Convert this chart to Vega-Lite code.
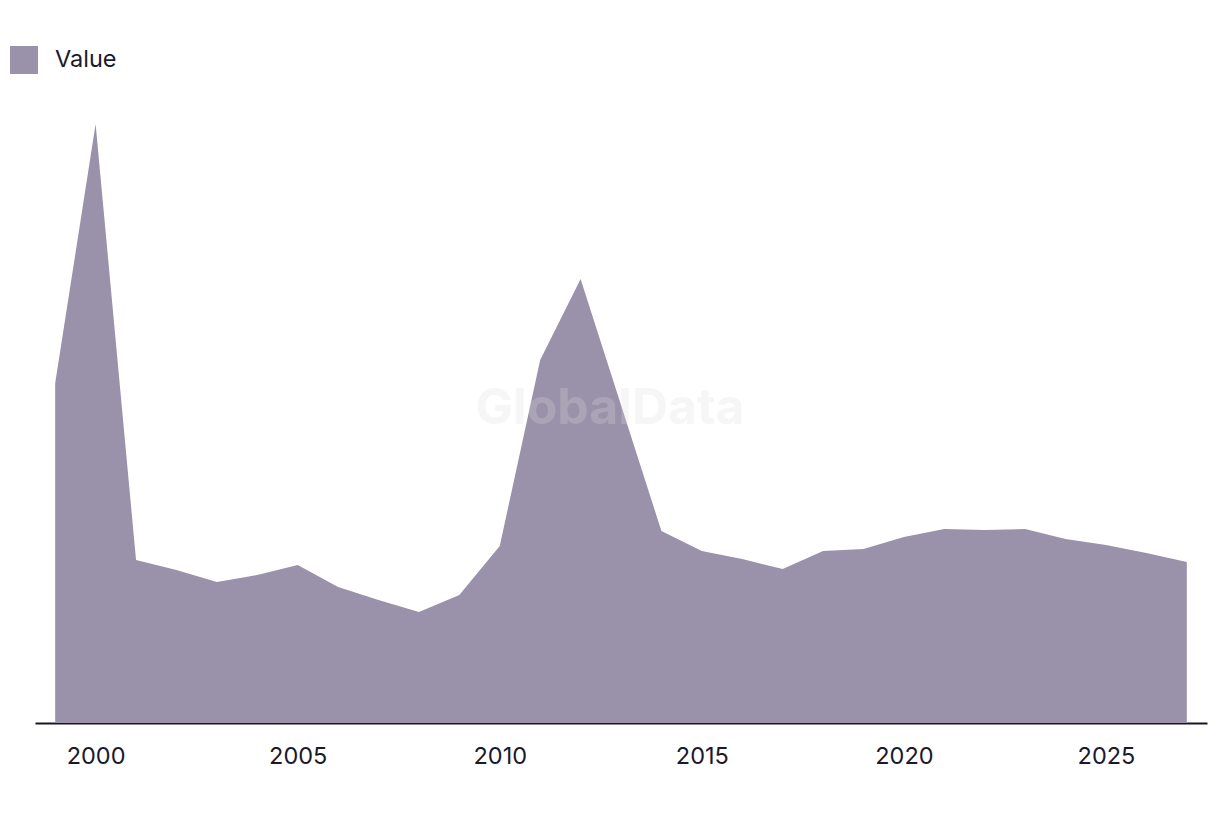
{
  "$schema": "https://vega.github.io/schema/vega-lite/v6.json",
  "width": 1172,
  "height": 623,
  "autosize": "none",
  "padding": {"left": 35, "top": 100, "right": 13, "bottom": 91},
  "background": "white",
  "config": {
    "view": {"stroke": null},
    "font": "Inter"
  },
  "datasets": {
    "series": [
      {"year": 1999, "value": 340, "series": "Value"},
      {"year": 2000, "value": 599, "series": "Value"},
      {"year": 2001, "value": 163, "series": "Value"},
      {"year": 2002, "value": 153, "series": "Value"},
      {"year": 2003, "value": 141, "series": "Value"},
      {"year": 2004, "value": 148, "series": "Value"},
      {"year": 2005, "value": 158, "series": "Value"},
      {"year": 2006, "value": 136, "series": "Value"},
      {"year": 2007, "value": 123, "series": "Value"},
      {"year": 2008, "value": 111, "series": "Value"},
      {"year": 2009, "value": 128, "series": "Value"},
      {"year": 2010, "value": 177, "series": "Value"},
      {"year": 2011, "value": 363, "series": "Value"},
      {"year": 2012, "value": 444, "series": "Value"},
      {"year": 2013, "value": 318, "series": "Value"},
      {"year": 2014, "value": 192, "series": "Value"},
      {"year": 2015, "value": 172, "series": "Value"},
      {"year": 2016, "value": 164, "series": "Value"},
      {"year": 2017, "value": 154, "series": "Value"},
      {"year": 2018, "value": 172, "series": "Value"},
      {"year": 2019, "value": 174, "series": "Value"},
      {"year": 2020, "value": 186, "series": "Value"},
      {"year": 2021, "value": 194, "series": "Value"},
      {"year": 2022, "value": 193, "series": "Value"},
      {"year": 2023, "value": 194, "series": "Value"},
      {"year": 2024, "value": 184, "series": "Value"},
      {"year": 2025, "value": 178, "series": "Value"},
      {"year": 2026, "value": 170, "series": "Value"},
      {"year": 2027, "value": 161, "series": "Value"}
    ],
    "mark": [
      {"year": 2012.73, "value": 314, "label": "GlobalData"}
    ]
  },
  "layer": [
    {
      "data": {"name": "series"},
      "mark": {"type": "area", "interpolate": "linear"},
      "encoding": {
        "x": {
          "field": "year",
          "type": "quantitative",
          "scale": {"domain": [1998.5, 2027.5], "nice": false, "zero": false},
          "axis": {
            "title": null,
            "values": [2000, 2005, 2010, 2015, 2020, 2025],
            "format": "d",
            "grid": false,
            "ticks": false,
            "domain": true,
            "domainColor": "#16162a",
            "domainWidth": 2,
            "labelFontSize": 23.5,
            "labelColor": "#1a1a2e",
            "labelPadding": 21,
            "labelFont": "Inter"
          }
        },
        "y": {
          "field": "value",
          "type": "quantitative",
          "scale": {"domain": [0, 623], "nice": false},
          "axis": null
        },
        "color": {
          "field": "series",
          "type": "nominal",
          "scale": {"range": ["#9a91aa"]},
          "legend": {
            "title": null,
            "orient": "none",
            "legendX": -25,
            "legendY": -54,
            "symbolType": "square",
            "symbolSize": 784,
            "symbolStrokeWidth": 0,
            "symbolOpacity": 1,
            "labelFontSize": 23.5,
            "labelColor": "#1a1a2e",
            "labelOffset": 17,
            "labelFont": "Inter"
          }
        }
      }
    },
    {
      "data": {"name": "mark"},
      "mark": {
        "type": "text",
        "font": "Inter",
        "fontWeight": "bold",
        "fontSize": 50,
        "color": "#dddddd",
        "opacity": 0.25,
        "align": "center",
        "baseline": "middle"
      },
      "encoding": {
        "x": {"field": "year", "type": "quantitative"},
        "y": {"field": "value", "type": "quantitative"},
        "text": {"field": "label"}
      }
    }
  ]
}
